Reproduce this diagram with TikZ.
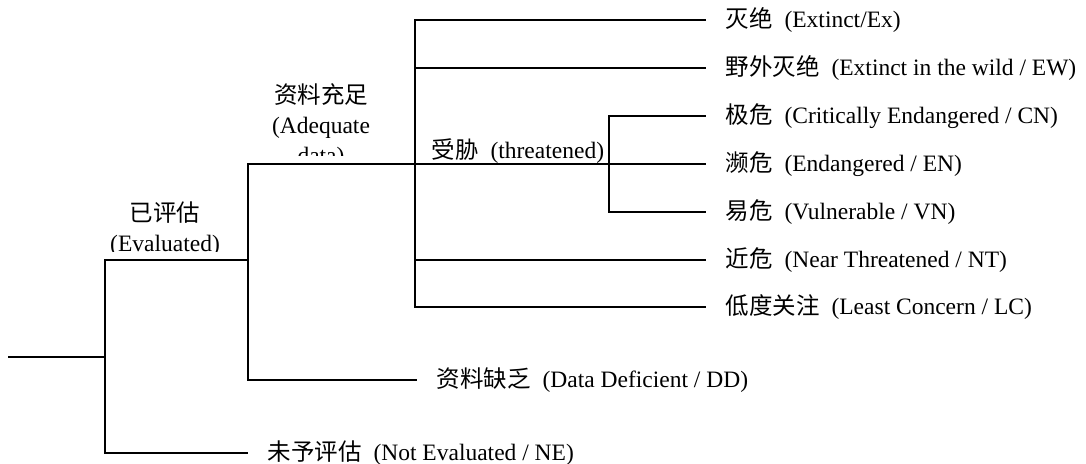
\documentclass[tikz,border=0pt]{standalone}
\usepackage{fontspec}
\setmainfont{Liberation Serif}
\newfontfamily\cjk{Noto Sans CJK SC}
\begin{document}
\begin{tikzpicture}
  [x=1pt,y=-1pt,line width=1.6pt,every node/.style={font=\fontsize{23.5}{30}\selectfont,inner sep=0pt}]
  \tikzstyle{leaf} = [anchor=west,inner xsep=19pt]
  \tikzstyle{branch} = [align=center]
  \useasboundingbox (0,0) rectangle (1086,463);
  % split points
  \coordinate (start) at (8,357);
  \coordinate (s1) at (105,357);
  \coordinate (s2) at (248,260);
  \coordinate (s3) at (415,164);
  \coordinate (s4) at (609,164);
  % categories
  \node[leaf] (ex) at (706,20)  {{\cjk 灭绝}~~(Extinct/Ex)};
  \node[leaf] (ew) at (706,68)  {{\cjk 野外灭绝}~~(Extinct in the wild / EW)};
  \node[leaf] (cn) at (706,116) {{\cjk 极危}~~(Critically Endangered / CN)};
  \node[leaf] (en) at (706,164) {{\cjk 濒危}~~(Endangered / EN)};
  \node[leaf] (vu) at (706,212) {{\cjk 易危}~~(Vulnerable / VN)};
  \node[leaf] (nt) at (706,260) {{\cjk 近危}~~(Near Threatened / NT)};
  \node[leaf] (lc) at (706,307) {{\cjk 低度关注}~~(Least Concern / LC)};
  \node[leaf] (dd) at (417,380) {{\cjk 资料缺乏}~~(Data Deficient / DD)};
  \node[leaf] (ne) at (248,453) {{\cjk 未予评估}~~(Not Evaluated / NE)};
  % branch labels (cut off at the bottom)
  \begin{scope}
    \clip (90,0) rectangle (247,251);
    \node[branch] (evaluated) at (165,229) {{\cjk 已评估}\\(Evaluated)};
  \end{scope}
  \begin{scope}
    \clip (250,0) rectangle (413,155);
    \node[branch] (adequate) at (321,126) {{\cjk 资料充足}\\(Adequate\\data)};
  \end{scope}
  \node[anchor=base west] (threatened) at (431,158) {{\cjk 受胁}~~(threatened)};
  % tree
  \draw (start) -- (s1);
  \foreach \from/\to in {s1/s2,s2/s3,s3/s4}
    \draw (\from) |- (\to);
  \foreach \from/\to in {s1/ne,s2/dd,s3/ex,s3/ew,s3/nt,s3/lc,s4/cn,s4/en,s4/vu}
    \draw (\from) |- (\to.west);
\end{tikzpicture}
\end{document}
